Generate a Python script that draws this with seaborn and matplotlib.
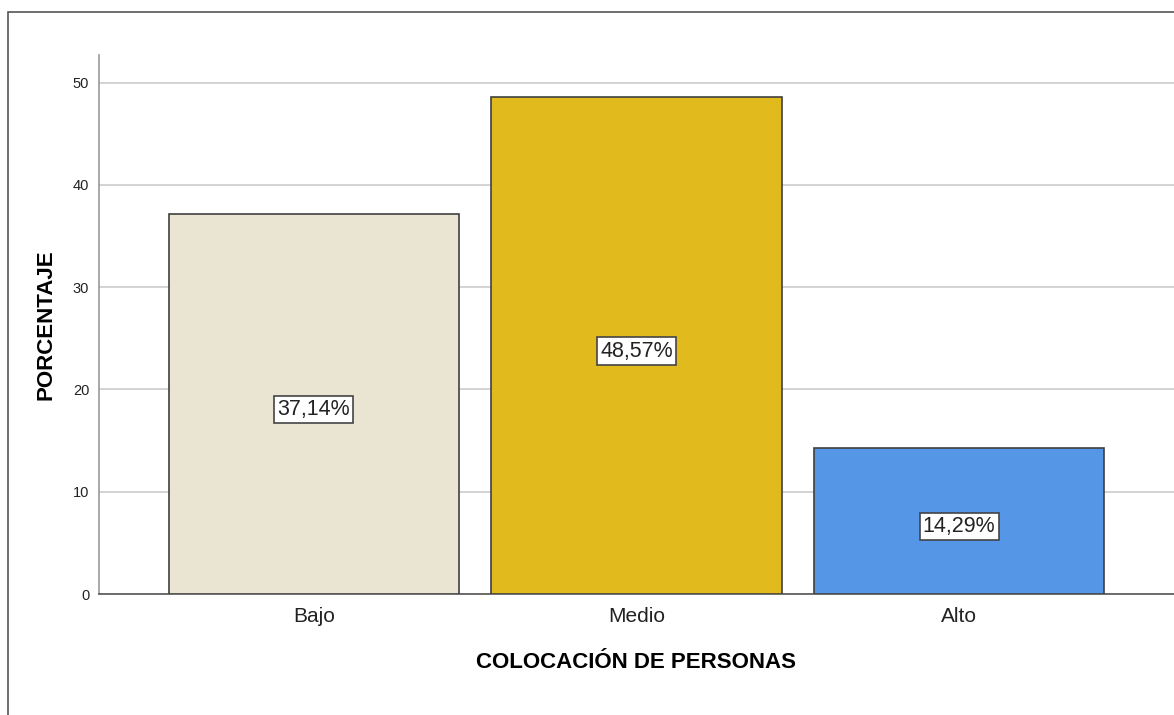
import numpy as np
import pandas as pd
import matplotlib.pyplot as plt
import seaborn as sns
from matplotlib.patches import Rectangle

# datos
categorias = ['Bajo', 'Medio', 'Alto']
porcentajes = [37.14, 48.57, 14.29]
colores = ['#EAE4D2', '#E1BA1E', '#5596E6']
ticks_y = [0, 10, 20, 30, 40, 50]

df = pd.DataFrame({'nivel': categorias, 'pct': porcentajes})

sns.set_style('white')
plt.rcParams['font.family'] = ['Liberation Sans', 'DejaVu Sans']

fig = plt.figure(figsize=(11.74, 7.15), dpi=100)
ax = fig.add_axes([0.0843, 0.1692, 0.9157, 0.7538])

# marco exterior del gráfico
fig.patches.append(Rectangle((8 / 1174, -0.1), 1.2, 1 - 12 / 715 + 0.1,
                             transform=fig.transFigure, fill=False,
                             edgecolor='#555555', linewidth=1.2))

sns.barplot(data=df, x='nivel', y='pct', hue='nivel', palette=colores,
            saturation=1, width=0.9, edgecolor='#404040', linewidth=1.2,
            legend=False, ax=ax, zorder=3)

ax.set_xlim(-0.666, 2.666)
ax.set_ylim(0, 52.7)
ax.set_yticks(ticks_y)
ax.yaxis.grid(True, color='#CCCCCC', linewidth=1.2, zorder=0)
ax.tick_params(axis='y', labelsize=10.5, colors='#222222', length=0, pad=7)
ax.tick_params(axis='x', labelsize=15, colors='#222222', length=0, pad=9)

for s in ['top', 'right']:
    ax.spines[s].set_visible(False)
ax.spines['left'].set_color('#999999')
ax.spines['left'].set_linewidth(1.2)
ax.spines['bottom'].set_color('#555555')
ax.spines['bottom'].set_linewidth(1.2)

ax.set_xlabel('COLOCACIÓN DE PERSONAS', fontsize=16, fontweight='bold',
              labelpad=19, color='black')
ax.set_ylabel('PORCENTAJE', fontsize=16, fontweight='bold', labelpad=12,
              color='black')

for i, v in enumerate(porcentajes):
    ax.annotate(f'{v:.2f}%'.replace('.', ','), xy=(i, v / 2),
                xytext=(0, -4), textcoords='offset points',
                ha='center', va='center', fontsize=15.5, color='#222222', zorder=5,
                bbox=dict(boxstyle='square,pad=0.15', facecolor='white',
                          edgecolor='#444444', linewidth=1.2))

plt.savefig('out.png', dpi=100)
